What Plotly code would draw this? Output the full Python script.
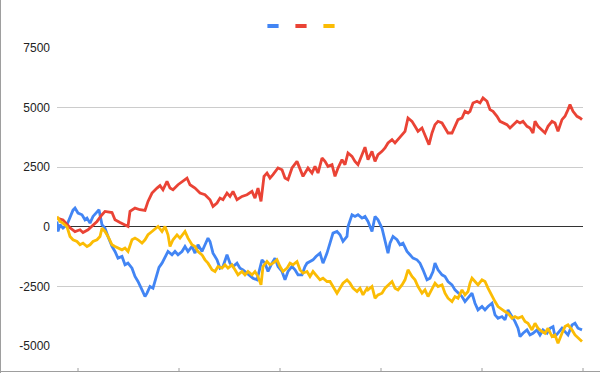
import plotly.graph_objects as go

# time step (sample index) and value for each series
red_t = [0, 12, 26, 36, 46, 52, 62, 70, 80, 90, 96, 110, 116, 126, 136, 142, 146, 156, 166, 176,
         182, 190, 200, 206, 212, 220, 226, 232, 242, 250, 260, 266, 276, 286, 296, 306, 312, 320,
         326, 332, 340, 346, 352, 360, 370, 380, 390, 396, 402, 408, 414, 420, 426, 432, 442, 450,
         456, 462, 470, 480, 486, 492, 502, 510, 516, 522, 530, 536, 542, 550, 556, 562, 570, 576,
         582, 590, 596, 602, 610, 616, 622, 630, 636, 642, 650, 656, 662, 670, 676, 682, 690, 696,
         702, 710, 716, 722, 730, 736, 744, 750, 756, 762, 770, 776, 782, 790, 796, 802, 810, 816,
         822, 826, 832, 840, 846, 852, 860, 866, 872, 880, 886, 892, 900, 906, 912, 920, 926, 932,
         940, 946, 952, 956, 962, 970, 976, 982, 990, 996, 1002, 1010, 1016, 1022, 1026, 1032, 1040,
         1046, 1050]
red_v = [365, 290, -40, -200, -125, -240, -125, 15, 225, 505, 645, 600, 295, 180, 85, 15, 645, 785,
         715, 685, 1065, 1415, 1625, 1730, 1555, 1905, 1625, 1555, 1765, 1905, 2045, 1765, 1625, 1415,
         1345, 1135, 855, 995, 1205, 1135, 1415, 1275, 1485, 1135, 1275, 1345, 1485, 1205, 1625, 1065,
         2115, 2255, 2045, 2185, 2465, 2395, 2045, 1975, 2465, 2745, 2465, 2115, 2465, 2255, 2535,
         2255, 2885, 2745, 2535, 2605, 2115, 2465, 2815, 2605, 3095, 2955, 2745, 2605, 3025, 3340,
         2815, 3165, 2745, 3025, 3165, 3305, 3515, 3655, 3515, 3655, 3865, 4005, 4565, 4425, 4215,
         4005, 4145, 3865, 3445, 3935, 4285, 4425, 4355, 4145, 3935, 3935, 4215, 4495, 4565, 4845,
         4775, 4845, 5195, 5265, 5195, 5405, 5265, 4915, 4845, 4635, 4425, 4355, 4285, 4145, 4285,
         4425, 4355, 4425, 4215, 4145, 3935, 4425, 4215, 4075, 3935, 4215, 4425, 4355, 4005, 4495,
         4635, 4915, 5125, 4845, 4635, 4565, 4495]

blue_t = [0, 2, 6, 12, 20, 26, 32, 36, 42, 50, 56, 60, 66, 72, 80, 84, 90, 96, 102, 110, 116, 122,
          130, 136, 142, 150, 156, 162, 170, 176, 180, 186, 192, 198, 204, 210, 216, 222, 230, 236,
          242, 250, 256, 262, 270, 276, 282, 290, 296, 302, 306, 312, 320, 326, 332, 340, 346, 352,
          360, 366, 372, 380, 386, 392, 400, 406, 410, 416, 422, 430, 436, 442, 450, 456, 462, 470,
          476, 482, 490, 496, 500, 506, 512, 518, 526, 532, 540, 546, 552, 560, 566, 572, 580, 582,
          590, 596, 602, 610, 616, 622, 630, 636, 642, 650, 656, 662, 666, 672, 680, 686, 692, 700,
          706, 712, 720, 726, 732, 740, 746, 752, 756, 762, 770, 776, 782, 790, 796, 802, 810, 816,
          822, 826, 830, 836, 842, 850, 856, 862, 870, 876, 882, 890, 896, 902, 910, 916, 922, 926,
          932, 940, 946, 952, 960, 966, 972, 980, 986, 992, 996, 1002, 1010, 1016, 1022, 1030, 1036,
          1042, 1050]
blue_v = [225, -195, 85, -55, 85, 365, 700, 785, 575, 505, 295, 365, 155, 435, 600, 715, 85, -55,
          -405, -825, -1035, -1315, -1245, -1595, -1525, -1735, -2085, -2295, -2645, -2925, -2785,
          -2505, -2575, -2100, -1700, -1525, -1245, -1035, -1175, -1035, -1175, -1035, -825, -1035,
          -825, -1105, -755, -1035, -755, -475, -615, -1105, -1385, -1735, -1665, -1175, -1525,
          -1665, -1525, -1735, -1805, -1945, -2085, -2155, -2225, -1665, -1385, -1525, -1875, -1525,
          -1315, -1665, -1875, -2225, -1875, -1665, -1805, -2015, -2015, -1665, -1525, -1455, -1385,
          -1245, -1105, -1525, -1105, -685, -265, -195, -335, -615, -405, 15, 505, 435, 505, 365,
          435, 225, -195, 435, 295, -55, -545, -1105, -685, -405, -545, -755, -685, -1035, -1175,
          -1315, -1385, -1525, -1805, -2225, -2155, -1875, -1525, -1805, -2015, -2085, -2295, -2435,
          -2645, -2785, -2925, -3135, -2995, -2925, -2785, -3205, -3485, -3345, -3485, -3345, -3205,
          -3695, -3835, -3765, -3905, -3485, -3765, -3975, -4255, -4605, -4465, -4325, -4535, -4465,
          -4325, -4535, -4325, -4465, -4255, -4185, -4605, -4465, -4255, -4395, -4535, -4115, -4045,
          -4255, -4325]

yellow_t = [0, 6, 12, 20, 26, 32, 40, 46, 52, 60, 66, 72, 80, 86, 90, 96, 102, 110, 116, 122, 130,
            136, 142, 150, 156, 162, 170, 176, 182, 190, 196, 202, 210, 216, 222, 226, 232, 240, 246,
            256, 262, 270, 276, 282, 290, 296, 302, 310, 316, 322, 330, 336, 342, 350, 356, 362, 370,
            376, 382, 390, 396, 402, 408, 412, 420, 426, 432, 440, 446, 452, 460, 466, 472, 480, 486,
            492, 500, 506, 512, 520, 526, 532, 540, 546, 552, 560, 566, 572, 580, 586, 592, 600, 606,
            612, 620, 622, 630, 636, 642, 650, 656, 662, 670, 676, 682, 690, 696, 702, 710, 716, 722,
            730, 736, 742, 750, 756, 762, 770, 776, 782, 790, 796, 802, 810, 816, 822, 826, 830, 836,
            842, 850, 856, 862, 870, 876, 882, 890, 896, 902, 910, 916, 922, 930, 936, 942, 950, 956,
            962, 970, 976, 982, 990, 996, 1002, 1010, 1016, 1022, 1030, 1036, 1042, 1050]
yellow_v = [435, 225, 155, 0, -405, -545, -615, -755, -685, -825, -755, -615, -545, -405, -55, -195,
            -405, -755, -825, -895, -965, -895, -1035, -545, -475, -545, -685, -545, -335, -195, -90,
            15, -195, 15, -335, -825, -545, -335, -475, -195, -475, -755, -825, -1035, -1175, -1385,
            -1525, -1805, -1875, -1665, -1735, -1595, -1735, -1595, -1805, -2015, -1875, -2015, -1875,
            -2015, -1875, -2085, -2435, -1665, -1455, -1595, -1525, -1385, -1665, -1875, -1735, -1525,
            -1595, -1455, -1805, -1945, -1875, -2085, -1875, -2085, -2225, -2155, -2295, -2295, -2505,
            -2785, -2575, -2365, -2225, -2365, -2575, -2715, -2575, -2855, -2575, -2645, -2505, -2995,
            -2855, -2785, -2575, -2435, -2295, -2575, -2645, -2435, -2225, -1805, -2085, -2225, -2505,
            -2785, -2645, -2925, -2575, -2365, -2505, -2435, -2785, -2995, -3135, -2925, -2995, -2645,
            -2855, -2715, -2365, -2155, -2295, -2435, -2225, -2295, -2575, -2925, -3135, -3345, -3485,
            -3555, -3625, -3835, -3765, -3835, -3765, -3975, -4045, -4325, -4045, -4255, -4395, -4465,
            -4255, -4605, -4535, -4885, -4465, -4185, -4115, -4325, -4535, -4675, -4815]

y_ticks = [-5000, -2500, 0, 2500, 5000, 7500]

BLUE = "#4285F4"
RED = "#EA4335"
YELLOW = "#FBBC04"

W, H = 600, 373
L, R, T, B = 57, 17, 48, 27
PW, PH = W - L - R, H - T - B


def px_x(px):
    return (px - L) / PW


def px_y(py):
    return (H - B - py) / PH


fig = go.Figure()
for t, v, c in [(blue_t, blue_v, BLUE), (red_t, red_v, RED), (yellow_t, yellow_v, YELLOW)]:
    fig.add_trace(go.Scatter(x=t, y=v, mode="lines", line=dict(color=c, width=2.8),
                             showlegend=False, hoverinfo="skip"))
# legend keys (no series names in the reference)
for c in [BLUE, RED, YELLOW]:
    fig.add_trace(go.Scatter(x=[None], y=[None], mode="markers", name="",
                             marker=dict(symbol="line-ew", size=8, color=c,
                                         line=dict(color=c, width=4))))

# frame of the chart container: left edge and bottom edge with small tick marks
frame = dict(color="#9e9e9e", width=1)
shapes = [
    dict(type="line", xref="paper", yref="paper", x0=px_x(0.5), x1=px_x(0.5),
         y0=px_y(0), y1=px_y(H), line=frame),
    dict(type="line", xref="paper", yref="paper", x0=px_x(0), x1=px_x(W),
         y0=px_y(371.5), y1=px_y(371.5), line=frame),
]
for tx in [78, 179, 280, 381, 482, 583]:
    shapes.append(dict(type="line", xref="paper", yref="paper", x0=px_x(tx), x1=px_x(tx),
                       y0=px_y(371.5), y1=px_y(368), line=frame))

fig.update_layout(
    width=W, height=H,
    margin=dict(l=L, r=R, t=T, b=B),
    paper_bgcolor="white", plot_bgcolor="white",
    font=dict(family="Liberation Sans, Arial, sans-serif", size=12, color="#444444"),
    xaxis=dict(visible=False, range=[0, 1052], fixedrange=True),
    yaxis=dict(range=[-5000, 7500], tickvals=y_ticks, ticktext=[str(v) for v in y_ticks],
               showgrid=True, gridcolor="#cccccc", gridwidth=1,
               zeroline=True, zerolinecolor="#333333", zerolinewidth=1,
               showline=False, ticks="", ticklabelstandoff=6,
               tickfont=dict(size=12, color="#222222"), fixedrange=True),
    showlegend=True,
    legend=dict(orientation="h", x=px_x(295), xanchor="center", y=px_y(26), yanchor="middle",
                font=dict(size=12), itemwidth=30, entrywidthmode="fraction",
                entrywidth=28 / PW, bgcolor="rgba(0,0,0,0)"),
    shapes=shapes,
)

fig.write_html("out.html")
